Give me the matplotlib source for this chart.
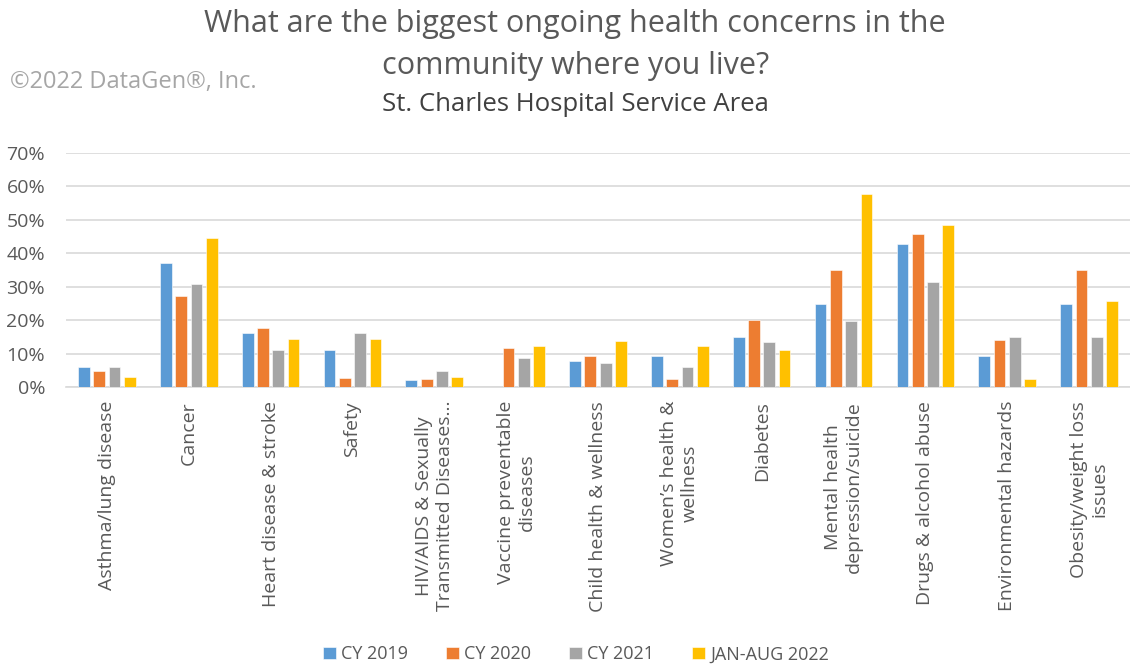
import numpy as np
import matplotlib.pyplot as plt
from matplotlib.ticker import PercentFormatter

plt.rcParams['font.family'] = ['Open Sans', 'DejaVu Sans']

# Survey categories (wrapped the way they show on the axis)
categories = [
    'Asthma/lung disease', 'Cancer', 'Heart disease & stroke', 'Safety',
    'HIV/AIDS & Sexually\nTransmitted Diseases...', 'Vaccine preventable\ndiseases',
    'Child health & wellness', "Women\u2019s health &\nwellness", 'Diabetes',
    'Mental health\ndepression/suicide', 'Drugs & alcohol abuse',
    'Environmental hazards', 'Obesity/weight loss\nissues',
]

series_names = ['CY 2019', 'CY 2020', 'CY 2021', 'JAN-AUG 2022']

# Share of respondents (%)
cy2019 = [6.0, 37.2, 16.3, 11.1, 2.0, 0.0, 7.7, 9.4, 15.1, 24.7, 42.9, 9.4, 24.7]
cy2020 = [4.8, 27.1, 17.8, 2.6, 2.5, 11.7, 9.4, 2.5, 20.1, 35.0, 45.7, 14.0, 35.0]
cy2021 = [6.0, 30.9, 11.1, 16.3, 4.9, 8.8, 7.1, 6.0, 13.4, 19.6, 31.5, 15.1, 15.1]
ytd2022 = [3.1, 44.7, 14.5, 14.5, 3.1, 12.2, 13.9, 12.2, 11.1, 57.8, 48.6, 2.5, 25.8]

colors = ['#5B9BD5', '#ED7D31', '#A5A5A5', '#FFC000']

fig = plt.figure(figsize=(11.3, 6.69), dpi=100)
ax = fig.add_axes([0.0584, 0.4215, 0.9416, 0.3498])

x = np.arange(len(categories))
width = 0.143
step = 0.187
for i, (vals, name, c) in enumerate(zip([cy2019, cy2020, cy2021, ytd2022], series_names, colors)):
    offset = (i - 1.5) * step
    ax.bar(x + offset, np.array(vals) / 100, width, color=c, label=name,
           edgecolor='white', linewidth=0.4, zorder=3)

ax.set_xlim(-0.5, len(categories) - 0.5)
ax.set_ylim(0, 0.7)
ax.set_yticks(np.arange(0, 0.71, 0.1))
ax.yaxis.set_major_formatter(PercentFormatter(1.0, decimals=0))
ax.grid(axis='y', color='#d9d9d9', linewidth=1.2, zorder=0)
for s in ['top', 'right', 'left']:
    ax.spines[s].set_visible(False)
ax.spines['bottom'].set_color('#d9d9d9')
ax.spines['bottom'].set_linewidth(1.2)
ax.tick_params(length=0, colors='#595959', labelsize=14)
ax.tick_params(axis='y', pad=15)

ax.set_xticks(x)
ax.set_xticklabels(categories, rotation=90, ha='center', va='top',
                   multialignment='center', fontsize=14, color='#595959')
ax.tick_params(axis='x', pad=10)

fig.text(0.509, 0.987, 'What are the biggest ongoing health concerns in the\ncommunity where you live?',
         ha='center', va='top', fontsize=22, color='#595959', linespacing=1.52)
fig.text(0.509, 0.844, 'St. Charles Hospital Service Area', ha='center', va='center',
         fontsize=18.5, color='#404040')
fig.text(0.009, 0.877, '\u00a92022 DataGen\u00ae, Inc.', ha='left', va='center',
         fontsize=17, color='#a6a6a6')

fig.legend(loc='center', bbox_to_anchor=(0.51, 0.022), ncol=4, frameon=False,
           fontsize=13, handlelength=0.7, handleheight=0.7, handletextpad=0.3,
           columnspacing=2.1, labelcolor='#595959')

fig.savefig('out.png', dpi=100)
